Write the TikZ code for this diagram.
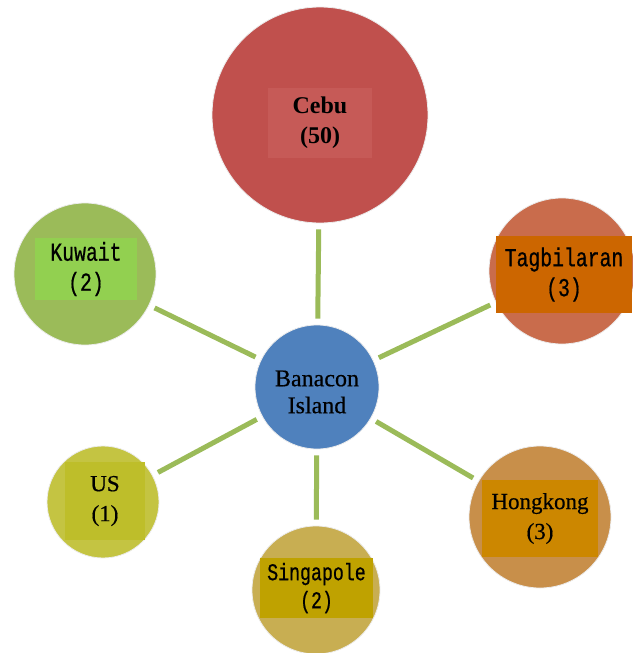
\documentclass[tikz,border=0pt]{standalone}
\usepackage{fontspec}
\setmainfont{Liberation Serif}
\newfontfamily\cnmono[FakeStretch=0.76, FakeBold=0.6]{Liberation Mono}
\newfontfamily\heavyserif[FakeBold=0.5]{Liberation Serif}
\usetikzlibrary{positioning}

\definecolor{link}{HTML}{9BBB59}
\definecolor{hubblue}{HTML}{4F81BD}
\definecolor{cebuc}{HTML}{C0504D}   \definecolor{cebub}{HTML}{C65A57}
\definecolor{kuwc}{HTML}{9BBB59}    \definecolor{kuwb}{HTML}{92D050}
\definecolor{tagc}{HTML}{C96C4C}    \definecolor{tagb}{HTML}{CC6600}
\definecolor{usc}{HTML}{C4C442}     \definecolor{usb}{HTML}{BEBE2A}
\definecolor{sinc}{HTML}{C8AE52}    \definecolor{sinb}{HTML}{BFA200}
\definecolor{hkc}{HTML}{C88F4A}     \definecolor{hkb}{HTML}{CC8700}

\begin{document}
\begin{tikzpicture}[x=1pt, y=-1pt,
    spot/.style={circle, inner sep=0, draw=white!85!gray, line width=.8pt},
    tag/.style={rectangle, inner sep=0, align=center},
    serifbig/.style={font=\heavyserif\fontsize{23}{30}\selectfont},
    monobig/.style={font=\cnmono\fontsize{26}{30}\selectfont},
    spoke/.style={draw=link, line width=5pt, shorten <=6pt, shorten >=6pt}]
    \useasboundingbox (0, 0) rectangle (632, 653);

    \node[spot, fill=hubblue, minimum size=124] (hub) at (317, 387) {};
    \node[spot, fill=cebuc, minimum size=216] (cebu) at (320, 115) {};
    \node[spot, fill=kuwc, minimum size=142] (kuwait) at (85, 274) {};
    \node[spot, fill=tagc, minimum size=146] (tagb) at (562, 271) {};
    \node[spot, fill=usc, minimum size=112] (us) at (103, 502) {};
    \node[spot, fill=sinc, minimum size=128] (sing) at (316, 590) {};
    \node[spot, fill=hkc, minimum size=142] (hk) at (540, 517) {};

    \foreach \n in {cebu, kuwait, tagb, us, sing, hk}
        \draw[spoke] (hub) -- (\n);

    \node[tag, fill=cebub, minimum width=104, minimum height=70, font=\bfseries\fontsize{24}{30}\selectfont] (cebu-lbl) at (320, 123) {Cebu\\(50)};
    \node[tag, fill=kuwb, minimum width=102, minimum height=62, monobig] (kuwait-lbl) at (86, 269) {Kuwait\\(2)};
    \node[tag, fill=tagb, minimum width=136, minimum height=77, monobig] (tagb-lbl) at (564, 274.5) {Tagbilaran\\(3)};
    \node[tag, fill=usb, minimum width=80, minimum height=78, serifbig] (us-lbl) at (105, 501) {US\\(1)};
    \node[tag, fill=sinb, minimum width=113, minimum height=60, font=\cnmono\fontsize{24}{28}\selectfont] (sing-lbl) at (316.5, 588) {Singapole\\(2)};
    \node[tag, fill=hkb, minimum width=116, minimum height=77, serifbig] (hk-lbl) at (540, 518.5) {Hongkong\\(3)};
    \node[tag, font=\heavyserif\fontsize{24}{27}\selectfont] (hub-lbl) at (317, 392) {Banacon\\Island};
\end{tikzpicture}
\end{document}
